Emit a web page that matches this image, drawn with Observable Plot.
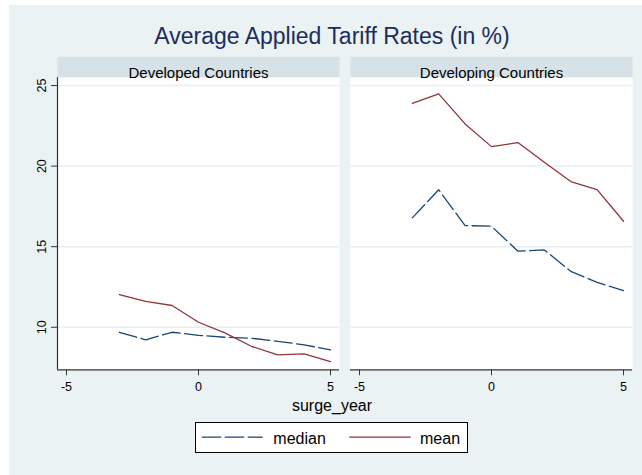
<!DOCTYPE html>
<html><head><meta charset="utf-8">
<script src="https://cdn.jsdelivr.net/npm/d3@7"></script>
<script src="https://cdn.jsdelivr.net/npm/@observablehq/plot@0.6"></script>
<style>
html,body{margin:0;padding:0;background:#fff;}
#g{position:absolute;left:9px;top:5px;width:633px;height:470px;background:#eaf2f3;font-family:"Liberation Sans",Arial,sans-serif;overflow:hidden;}
#title{position:absolute;left:0;top:19.5px;width:646px;text-align:center;font-size:23px;line-height:23px;color:#1c2d5c;white-space:nowrap;}
#chart{position:absolute;left:0;top:45px;}
#xlabel{position:absolute;left:0;top:392.5px;width:646px;text-align:center;font-size:16px;line-height:16px;color:#000;}
#legend{position:absolute;left:186px;top:417.3px;width:273.3px;height:30.4px;box-sizing:border-box;border:1px solid #000;background:#fff;}
#legend svg{position:absolute;left:-1px;top:-1px;}
</style>
</head><body>
<div id="g">
  <div id="title">Average Applied Tariff Rates (in %)</div>
  <div id="chart"></div>
  <div id="xlabel">surge_year</div>
  <div id="legend"></div>
</div>
<script>
const groups = ["Developed Countries", "Developing Countries"];
const years = [-3, -2, -1, 0, 1, 2, 3, 4, 5];
const devMedian = [9.69, 9.22, 9.69, 9.50, 9.38, 9.32, 9.13, 8.91, 8.60];
const devMean   = [12.03, 11.60, 11.35, 10.31, 9.65, 8.82, 8.29, 8.35, 7.87];
const dvgMedian = [16.79, 18.53, 16.31, 16.27, 14.72, 14.80, 13.47, 12.79, 12.27];
const dvgMean   = [23.90, 24.48, 22.62, 21.21, 21.46, 20.24, 19.04, 18.54, 16.58];
const seriesNames = ["median", "mean"];
const xTicks = [-5, 0, 5];
const yTicks = [10, 15, 20, 25];

const colors = {median: "#1a476f", mean: "#90353b"};
const dash = "18,4.5";

const rows = [];
const add = (g, s, vals) => vals.forEach((v, i) => rows.push({group: g, series: s, year: years[i], value: v}));
add(groups[0], "median", devMedian);
add(groups[0], "mean", devMean);
add(groups[1], "median", dvgMedian);
add(groups[1], "mean", dvgMean);

const xDomain = [-5.34, 5.34];
const yDomain = [7.36, 25.5];
const W = 633, H = 350, mT = 27, mB = 30.7, mL = 47.7, mR = 10.3;
const frameH = H - mT - mB;
const font = "Liberation Sans, Arial, sans-serif";
const axisColor = "#333";

const plot = Plot.plot({
  width: W, height: H,
  marginTop: mT, marginBottom: mB, marginLeft: mL, marginRight: mR,
  style: {background: "transparent", fontFamily: font, color: "#000", overflow: "visible"},
  fx: {domain: groups, axis: null, paddingInner: 0.038, paddingOuter: 0},
  x: {domain: xDomain, axis: null},
  y: {domain: yDomain, axis: null},
  marks: [
    Plot.frame({fill: "#d6e2e8", insetTop: -20.7, insetBottom: frameH}),
    Plot.frame({fill: "#fff"}),
    Plot.gridY(yTicks, {stroke: "#e6eff1", strokeOpacity: 1, strokeWidth: 1.5}),
    Plot.text(groups, {fx: d => d, text: d => d, frameAnchor: "top", dy: -10.3, fontSize: 15, fill: "#000"}),
    Plot.ruleY([yDomain[0]], {stroke: axisColor, strokeWidth: 1.2}),
    Plot.ruleX([groups[0]], {fx: d => d, x: xDomain[0], stroke: axisColor, strokeWidth: 1.2}),
    Plot.axisX({ticks: xTicks, tickSize: 6, tickPadding: 6, fontSize: 12.5, stroke: axisColor, label: null, tickFormat: d => String(d).replace("−","-")}),
    Plot.axisY({ticks: yTicks, tickSize: 6, tickPadding: 6, tickRotate: -90, fontSize: 12.5, stroke: axisColor, label: null}),
    Plot.line(rows.filter(d => d.series === "median"), {fx: "group", x: "year", y: "value", stroke: colors.median, strokeWidth: 1.3, strokeDasharray: dash}),
    Plot.line(rows.filter(d => d.series === "mean"), {fx: "group", x: "year", y: "value", stroke: colors.mean, strokeWidth: 1.3})
  ]
});
document.getElementById("chart").appendChild(plot);

// legend
const ns = "http://www.w3.org/2000/svg";
const lsvg = document.createElementNS(ns, "svg");
lsvg.setAttribute("width", 274);
lsvg.setAttribute("height", 31);
const items = [
  {name: seriesNames[0], x1: 6.7, x2: 67.7, tx: 78.3, dash: "19.5,3.5"},
  {name: seriesNames[1], x1: 154.3, x2: 215.7, tx: 225, dash: null}
];
items.forEach(it => {
  const l = document.createElementNS(ns, "line");
  l.setAttribute("x1", it.x1); l.setAttribute("x2", it.x2);
  l.setAttribute("y1", 15.2); l.setAttribute("y2", 15.2);
  l.setAttribute("stroke", colors[it.name]); l.setAttribute("stroke-width", 1.3);
  if (it.dash) l.setAttribute("stroke-dasharray", it.dash);
  lsvg.appendChild(l);
  const t = document.createElementNS(ns, "text");
  t.setAttribute("x", it.tx); t.setAttribute("y", 22);
  t.setAttribute("font-size", 16); t.setAttribute("font-family", font);
  t.textContent = it.name;
  lsvg.appendChild(t);
});
document.getElementById("legend").appendChild(lsvg);
</script>
</body></html>
